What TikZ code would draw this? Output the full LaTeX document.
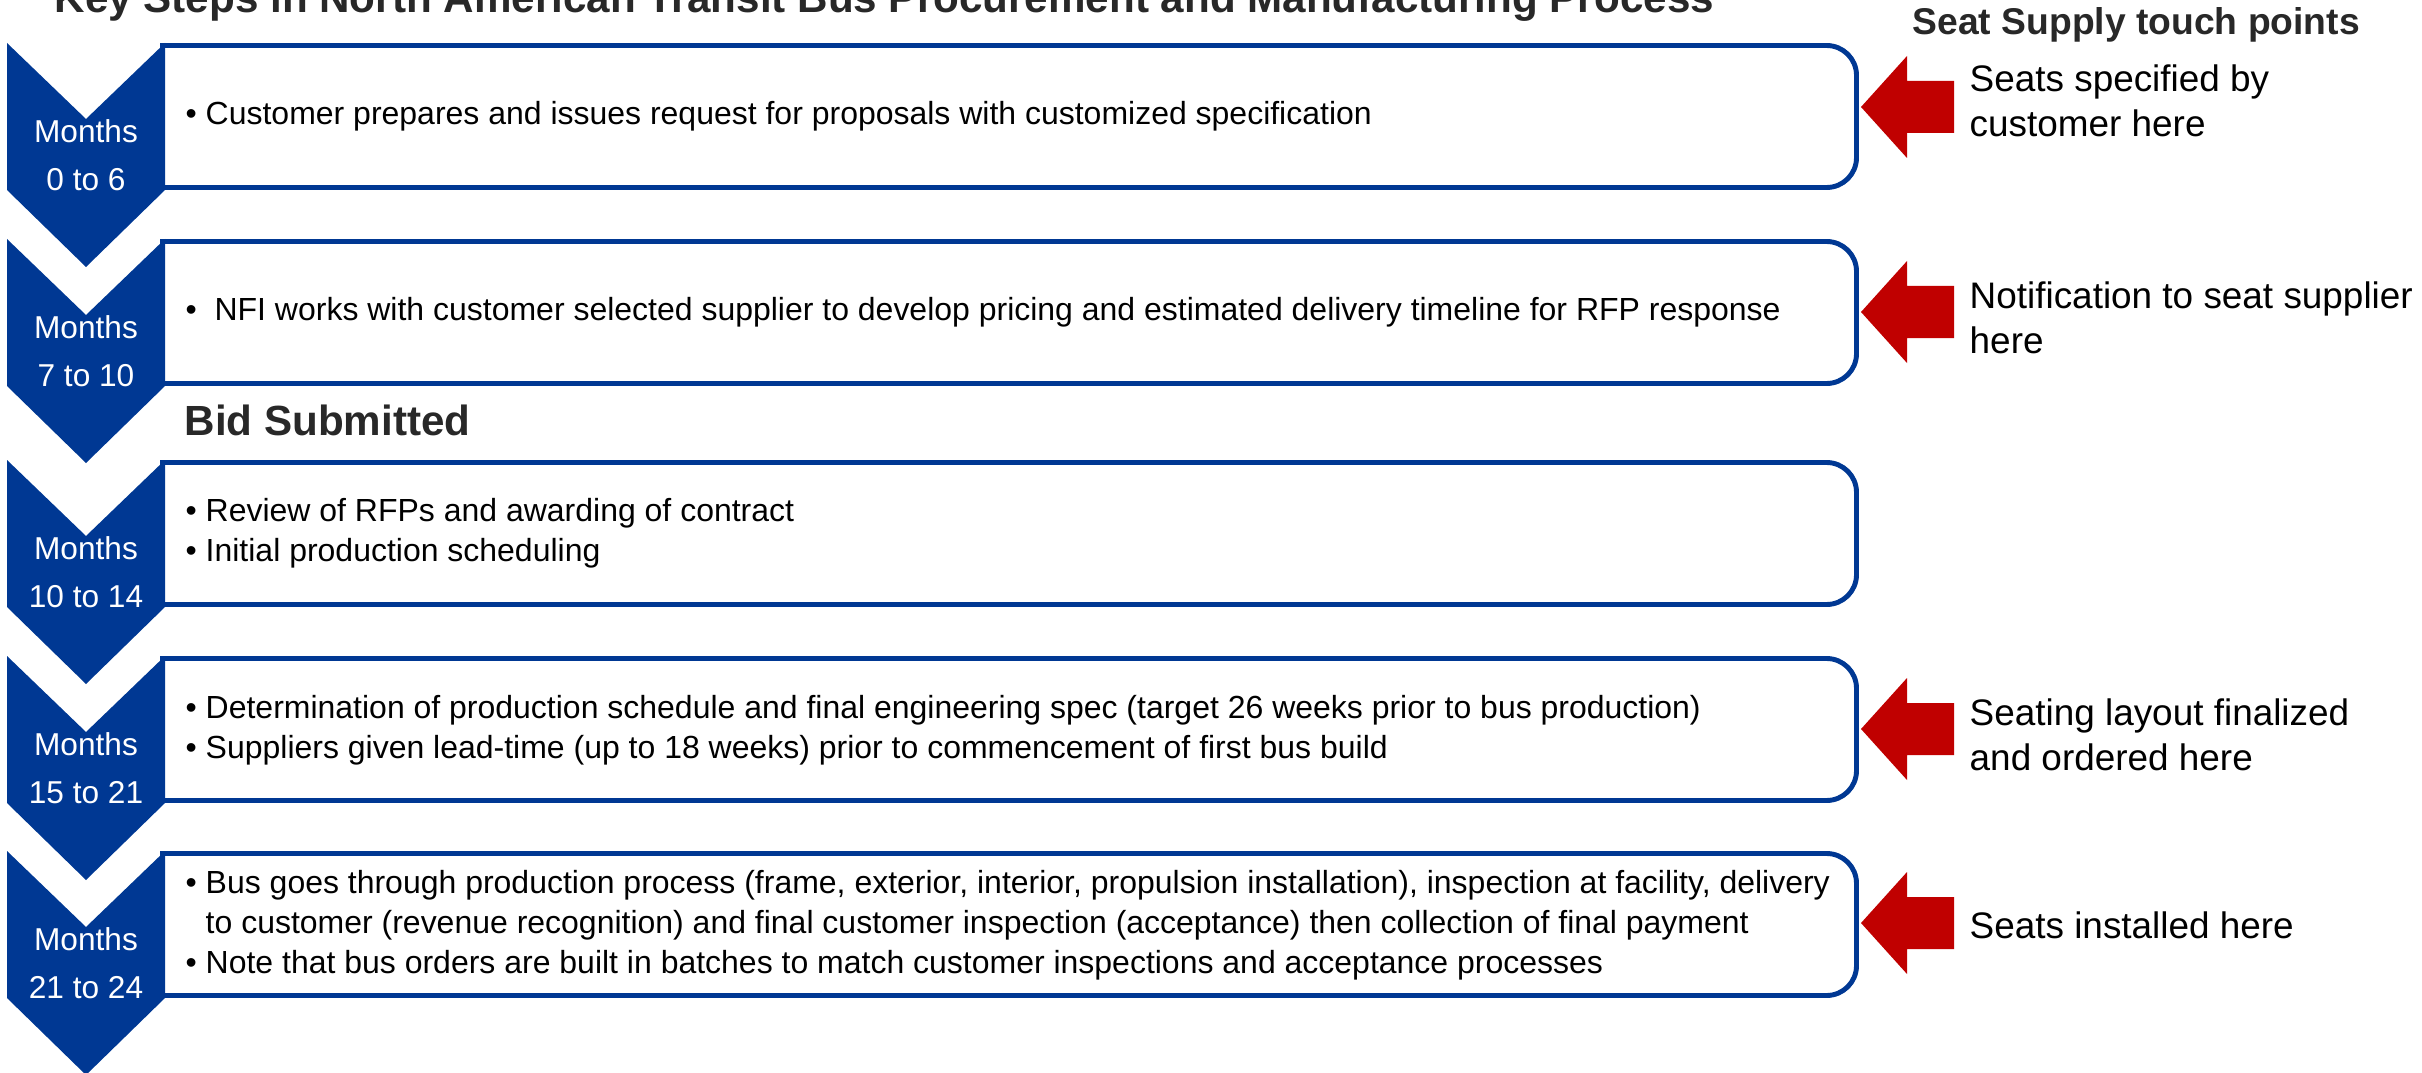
\documentclass[tikz,border=0pt]{standalone}
\usepackage{fontspec}
\setmainfont{Liberation Sans}
\usepackage{color}

\definecolor{nfiblue}{RGB}{0,56,147}
\definecolor{seatred}{RGB}{192,0,0}
\definecolor{headgray}{RGB}{40,40,40}
\newcommand{\bul}{\makebox[5.7pt][l]{•}}

\begin{document}
\begin{tikzpicture}[x=0.1mm,y=-0.1mm,
  stage/.style={draw=nfiblue,line width=1.4pt,rounded corners=8.5pt},
  months/.style={text=white,align=center,inner sep=0pt,font=\fontsize{9}{13.7}\selectfont},
  stepinfo/.style={anchor=west,align=left,inner sep=0pt,font=\fontsize{9.1}{11.4}\selectfont},
  touch/.style={anchor=west,align=left,inner sep=0pt,font=\fontsize{10.5}{12.8}\selectfont},
  heading/.style={anchor=base west,inner sep=0pt,text=headgray,font=\bfseries\fontsize{12}{14}\selectfont}]
\useasboundingbox (0,0) rectangle (2422,1073);

% titles
\node[heading] (title) at (54,13) {Key Steps in North American Transit Bus Procurement and Manufacturing Process};
\node[heading,font=\bfseries\fontsize{10.6}{13}\selectfont] (touchhead) at (1912,35) {Seat Supply touch points};
\node[heading] (bid) at (184,435) {Bid Submitted};

% boxes and month chevrons
\foreach \t/\n/\m in {43/1/0 to 6, 239/2/7 to 10, 460/3/10 to 14, 656/4/15 to 21, 851/5/21 to 24} {
  \draw[stage] (160,\t+2.5) -- (1856.5,\t+2.5) -- (1856.5,\t+144.5) -- (160,\t+144.5);
  \fill[nfiblue] (7,\t) -- (86,\t+76) -- (165,\t) -- (165,\t+147) -- (86,\t+224) -- (7,\t+147) -- cycle;
  \node[months] (m\n) at (86,\t+112) {Months\\\m};
}

% what happens in each step
\node[stepinfo] (s1) at (185,116) {\bul Customer prepares and issues request for proposals with customized specification};
\node[stepinfo] (s2) at (185,312) {\bul\ NFI works with customer selected supplier to develop pricing and estimated delivery timeline for RFP response};
\node[stepinfo] (s3) at (185,533) {\bul Review of RFPs and awarding of contract\\\bul Initial production scheduling};
\node[stepinfo] (s4) at (185,730) {\bul Determination of production schedule and final engineering spec (target 26 weeks prior to bus production)\\\bul Suppliers given lead-time (up to 18 weeks) prior to commencement of first bus build};
\node[stepinfo] (s5) at (185,925) {\bul Bus goes through production process (frame, exterior, interior, propulsion installation), inspection at facility, delivery\\\hspace*{5.7pt}to customer (revenue recognition) and final customer inspection (acceptance) then collection of final payment\\\bul Note that bus orders are built in batches to match customer inspections and acceptance processes};

% seat supply arrows
\foreach \y/\n in {107/1, 312/2, 729/4, 923/5} {
  \coordinate (tip\n) at (1861,\y);
  \fill[seatred] (tip\n) -- ++(46,-51) -- ++(0,25) -- ++(47,0) -- ++(0,52) -- ++(-47,0) -- ++(0,25) -- cycle;
}
\node[touch] (n1) at (1969,101) {Seats specified by\\customer here};
\node[touch] (n2) at (1969,318) {Notification to seat supplier\\here};
\node[touch] (n4) at (1969,735) {Seating layout finalized\\and ordered here};
\node[touch] (n5) at (1969,925) {Seats installed here};
\end{tikzpicture}
\end{document}
